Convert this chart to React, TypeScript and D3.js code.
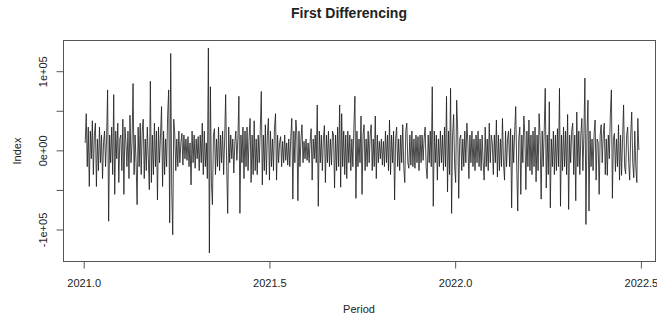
import React from "react";
import * as d3 from "d3";

// First differences (in thousands), daily from 2021 + 1/365
const diffA = [10, 47, -20, 30, -45, 25, -10, 38, -30, 20,
  35, -45, 15, -25, 30, -15, 20, -35, 10, 25,
  -20, 15, 77, -89, 20, -15, 30, -30, 71, -55,
  25, -10, 35, -40, 15, 20, -25, 40, -55, 30,
  10, -20, 25, -35, 45, -15, 10, 85, -30, 20];
const diffB = [-15, -68, 30, -20, 35, -30, 25, 40, -35, 15,
  -25, 30, -10, -49, 88, -40, 20, -30, 35, -20,
  25, -62, 30, -15, 20, 56, -45, 25, -30, 15,
  -20, 45, 77, -91, 123, -50, -106, 40, 20, -25,
  15, -20, 25, -15, 10, 22, -18, 20, -10, 15];
const diffC = [-12, 18, -20, 10, -43, 25, -15, 20, -22, 15,
  -10, 18, -25, 20, -15, 35, -30, 25, -20, 10,
  -35, 130, -129, 81, -40, -68, 20, 28, -30, 15,
  -20, 30, -25, 20, -15, 25, -30, 15, 71, -20,
  -79, 30, -15, 20, -10, 15, -28, 10, 25, -12];
const diffD = [15, 69, -79, 20, -15, 30, -35, 25, -20, 30,
  -25, 15, 41, -40, 20, -30, 38, -25, 15, -30,
  20, -15, 25, 75, -43, 20, -25, 33, -30, 20,
  41, -37, 25, -20, 15, -25, 30, 47, -37, 20,
  -15, 10, 18, -20, 12, -15, 20, -12, 10, -18];
const diffE = [15, -20, 18, 41, -61, 25, -15, 39, 20, -63,
  25, -20, 15, 33, -15, 12, -10, 15, -12, 10,
  -15, 12, 28, -37, 15, -10, 20, -15, 58, -70,
  25, -15, 20, -25, 15, 32, -40, 20, -15, 25,
  -20, 15, -18, 25, 20, -47, 20, -25, 30, -20];
const diffF = [58, -46, 47, -20, 25, -30, 20, -35, 25, -15,
  20, -25, 15, -20, 30, 69, -60, 25, -20, 15,
  -15, 44, -55, 20, 33, -25, 15, -20, 25, -15,
  20, 33, -25, 15, -20, 44, -35, 20, -15, 12,
  -10, 15, -18, 12, -20, 25, -15, 20, -25, 39];
const diffG = [-30, 20, -15, 25, -62, 15, 30, -20, 15, -25,
  20, -15, 33, -20, -40, 25, 35, -15, -22, 20,
  -18, 25, -20, 15, -22, 20, -15, 18, -25, 20,
  -15, 20, -12, 15, 30, -20, -35, 20, -15, 25,
  -20, 81, -70, 25, -15, 20, -37, 15, -20, 25];
const diffH = [-15, 20, -25, 30, -20, 69, -52, 25, -30, 79,
  -79, 20, 46, -20, -40, 64, 25, -60, 15, 20,
  -25, 15, -20, 25, -15, 35, 10, -35, 20, -15,
  25, -20, 15, -25, 20, -15, 25, -20, 15, -25,
  20, -15, -37, 30, -20, 15, -25, 35, -15, 20];
const diffI = [10, -30, 20, -15, 39, -33, 20, -25, 15, -20,
  41, -15, -37, 25, -20, 15, 25, -20, 28, -72,
  20, -15, 25, 56, -20, -76, 15, 30, -55, 20,
  -15, 44, 20, -49, 25, -20, 39, -25, 20, -30,
  25, -20, 30, -39, 20, -25, 47, 15, -61, 25];
const diffJ = [-20, 25, 79, -47, 20, -30, 62, -72, 15, -20,
  25, -30, 20, -25, 28, -20, 79, -70, 20, -25,
  30, -20, 25, -30, 46, -74, 20, -15, 25, 35,
  -30, 20, -63, 49, -20, 25, -30, 20, 41, -25,
  20, 92, -93, 20, 64, -76, 25, -20, 15, -25];
const diffK = [20, 39, -37, 15, 10, -55, 20, 33, -15, 20,
  35, -30, 15, -31, 20, -10, 47, 77, -60, 15,
  22, -26, 15, -20, 33, -37, 20, -31, 15, 58,
  -20, -29, 20, 30, -15, -37, 20, 49, -15, -34,
  25, -20, -40, 41, 1];

const seriesK = [...diffA, ...diffB, ...diffC, ...diffD, ...diffE, ...diffF,
  ...diffG, ...diffH, ...diffI, ...diffJ, ...diffK];

const startYear = 2021;
const frequency = 365;
const xTicks = [2021.0, 2021.5, 2022.0, 2022.5];
const xTickLabels = ["2021.0", "2021.5", "2022.0", "2022.5"];
const yTicks = [-100000, -50000, 0, 50000, 100000];
const yLabelTicks = [-100000, 0, 100000];
const yTickLabels = ["-1e+05", "0e+00", "1e+05"];

const W = 657, H = 320;
const box = { left: 63.5, right: 655.5, top: 40.5, bottom: 261.5 };

export default function App() {
  const x = d3.scaleLinear().domain([2021, 2022.5]).range([84.2, 641.4]);
  const y = d3.scaleLinear().domain([-100000, 100000]).range([230, 71.7]);
  const pts = seriesK.map((v, i) => [startYear + (i + 1) / frequency, v * 1000] as [number, number]);
  const line = d3.line<[number, number]>().x(d => x(d[0])).y(d => y(d[1]));
  const font = "'Liberation Sans', Arial, sans-serif";
  const txt = "#222";
  return (
    <svg width={W} height={H} style={{ position: "absolute", left: 0, top: 0, background: "#fff" }} fontFamily={font}>
      <rect x={0} y={0} width={W} height={H} fill="#fff" />
      <path d={line(pts) || ""} fill="none" stroke="#1a1a1a" strokeWidth={0.8} />
      <rect x={box.left} y={box.top} width={box.right - box.left} height={box.bottom - box.top} fill="none" stroke="#555" strokeWidth={1} />
      {xTicks.map((t, i) => (
        <g key={"x" + i}>
          <line x1={x(t)} x2={x(t)} y1={box.bottom} y2={box.bottom + 7} stroke="#555" />
          <text x={x(t)} y={287} textAnchor="middle" fontSize={11} fill={txt}>{xTickLabels[i]}</text>
        </g>
      ))}
      <line x1={x(2021)} x2={x(2022.5)} y1={box.bottom} y2={box.bottom} stroke="#555" />
      {yTicks.map((t, i) => (
        <line key={"y" + i} x1={box.left - 7} x2={box.left} y1={y(t)} y2={y(t)} stroke="#555" />
      ))}
      {yLabelTicks.map((t, i) => (
        <text key={"yl" + i} transform={`translate(47,${y(t)}) rotate(-90)`} textAnchor="middle" fontSize={11} fill={txt}>{yTickLabels[i]}</text>
      ))}
      <text x={349} y={18} textAnchor="middle" fontSize={14} fontWeight="bold" fill={txt}>First Differencing</text>
      <text x={359} y={313} textAnchor="middle" fontSize={11} fill={txt}>Period</text>
      <text transform={`translate(21,${(box.top + box.bottom) / 2}) rotate(-90)`} textAnchor="middle" fontSize={11} fill={txt}>Index</text>
    </svg>
  );
}
